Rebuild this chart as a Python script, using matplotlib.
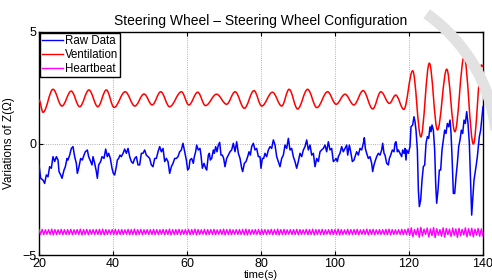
import numpy as np
import matplotlib
matplotlib.use("Agg")
from matplotlib import pyplot as plt
from matplotlib.path import Path
from matplotlib.patches import PathPatch, Arc
from matplotlib.lines import Line2D

plt.rcParams['font.family'] = ['Liberation Sans', 'DejaVu Sans']

# raw impedance trace (time in s, value)
raw_t = [20.0, 20.45, 21.08, 21.53, 21.98, 22.43, 22.88, 23.33, 23.78, 24.24, 24.69, 25.14, 25.41, 25.86,
         26.22, 26.76, 27.12, 27.57, 27.84, 28.29, 28.74, 29.19, 29.64, 30.09, 30.36, 30.72, 31.26, 31.71,
         32.16, 32.52, 33.06, 33.42, 33.97, 34.33, 34.60, 35.05, 35.50, 35.77, 36.13, 36.67, 37.03, 37.57,
         38.02, 38.47, 38.83, 39.28, 39.73, 40.09, 40.45, 40.90, 41.17, 41.53, 41.89, 42.25, 42.71, 43.16,
         43.61, 44.06, 44.51, 44.96, 45.41, 45.86, 46.31, 46.76, 47.21, 47.66, 48.11, 48.56, 49.01, 49.46,
         49.91, 50.36, 50.81, 51.27, 51.72, 52.17, 52.62, 53.07, 53.52, 53.97, 54.42, 54.87, 55.32, 55.77,
         56.22, 56.67, 57.12, 57.57, 58.02, 58.47, 58.92, 59.37, 59.82,
         60.18, 60.54, 60.81, 61.26, 61.71, 61.98, 62.34, 62.61, 63.06, 63.51, 63.78, 64.15, 64.60, 65.05,
         65.32, 65.77, 66.04, 66.31, 66.67, 67.12, 67.39, 67.75, 68.11, 68.47, 68.83, 69.19, 69.55, 69.91,
         70.27, 70.72, 71.17, 71.62, 72.07, 72.52, 72.98, 73.43, 73.88, 74.33, 74.78, 75.05, 75.50, 75.95,
         76.40, 76.76, 77.12, 77.48, 77.93, 78.38, 78.83, 79.28, 79.73, 80.00, 80.36, 80.72, 81.08, 81.53,
         81.99, 82.44, 82.89, 83.34, 83.79, 84.24, 84.69, 85.14, 85.59, 86.04, 86.49, 86.94, 87.39, 87.84,
         88.29, 88.74, 89.19, 89.64, 90.09, 90.54, 90.99, 91.45, 91.90, 92.35, 92.80, 93.25, 93.70, 94.15,
         94.60, 95.05, 95.50, 95.95, 96.40, 96.85, 97.30, 97.75, 98.20, 98.65, 99.10, 99.55, 100.0,
         100.27, 100.63, 100.90, 101.35, 101.80, 102.25, 102.70, 103.16, 103.43, 103.88, 104.24, 104.69,
         105.14, 105.41, 105.86, 106.31, 106.76, 107.21, 107.66, 107.93, 108.20, 108.56, 109.01, 109.46,
         109.91, 110.18, 110.54, 110.81, 111.26, 111.71, 112.16, 112.62, 112.89, 113.25, 113.52, 113.97,
         114.42, 114.69, 115.05, 115.50, 115.95, 116.22, 116.49, 116.85, 117.12,
         118.02, 118.29, 118.65, 118.92, 119.19, 119.37, 119.82, 120.27, 120.54, 120.99, 121.35, 121.62,
         121.89, 122.26, 122.53, 122.80, 123.16, 123.52, 123.88, 124.24, 124.60, 124.96, 125.32, 125.68,
         125.95, 126.22, 126.58, 126.94, 127.21, 127.48, 127.84, 128.20, 128.56, 128.92, 129.28, 129.64,
         130.00, 130.36, 130.72, 131.09, 131.36, 131.63, 131.99, 132.35, 132.71, 133.07, 133.43, 133.79,
         134.15, 134.51, 134.87, 135.23, 135.59, 135.95, 136.31, 136.67, 136.94, 137.21, 137.57, 138.11,
         138.47, 139.01, 139.37, 139.73, 140.0]
raw_v = [-0.96, -1.56, -1.64, -1.79, -1.41, -1.49, -1.04, -1.11, -0.59, -0.81, -0.59, -0.74, -1.26, -1.41,
         -1.56, -1.19, -1.04, -0.67, -0.74, -0.52, -0.22, -0.14, -0.59, -0.89, -1.34, -1.11, -0.67, -0.74,
         -0.52, -0.37, -0.29, -0.59, -0.81, -0.96, -0.59, -0.89, -1.26, -1.56, -0.96, -0.81, -0.59, -0.67,
         -0.25, -0.59, -0.44, -0.67, -1.11, -1.34, -1.41, -1.04, -0.74, -0.67, -0.52, -0.59, -0.44, -0.25,
         -0.44, -0.22, -0.59, -0.81, -0.89, -0.67, -0.59, -0.96, -0.96, -0.44, -0.44, -0.29, -0.52, -0.59,
         -0.67, -0.96, -1.04, -0.67, -0.67, -0.37, -0.14, -0.37, -0.22, -0.81, -0.67, -0.81, -1.34, -1.04,
         -0.89, -0.67, -0.67, -0.59, -0.37, -0.29, 0.01, -0.37, -0.74,
         -1.19, -1.11, -0.74, -0.67, -0.89, -0.59, -0.37, -0.07, -0.29, -0.22, -0.52, -1.11, -0.89, -1.11,
         -1.19, -0.52, -0.44, -0.74, -0.67, -0.29, -0.44, -0.14, -0.37, -0.07, 0.05, -0.52, -0.52, -0.67,
         -1.04, -0.67, -0.52, -0.37, -0.29, 0.01, -0.37, 0.08, -0.44, -0.67, -1.11, -1.26, -0.89, -0.81,
         -0.59, -0.37, -0.52, -0.14, 0.01, -0.29, -0.22, -0.59, -0.59, -1.11, -0.67, -0.67, -0.44, -0.59,
         -0.29, -0.14, -0.22, 0.16, -0.07, -0.59, -0.81, -1.04, -0.67, -0.52, -0.07, -0.22, 0.23, -0.29,
         -0.22, -0.59, -0.81, -1.11, -0.81, -0.44, -0.59, -0.29, -0.14, 0.16, -0.29, -0.07, -0.52, -0.44,
         -1.04, -0.67, -0.81, -0.37, -0.29, -0.22, -0.07, -0.37, 0.08, -0.29, -0.22, -0.81, -0.74,
         -0.67, -0.81, -0.59, -0.44, -0.14, -0.37, -0.22, -0.07, -0.52, -0.07, -0.37, -0.81,
         -0.74, -0.59, -0.37, -0.52, -0.22, -0.29, 0.01, 0.26, -0.22, -0.44, -0.67, -0.59,
         -0.89, -1.26, -0.96, -0.81, -0.59, -0.44, -0.52, -0.29, 0.01, -0.44, -0.52, -0.89,
         -0.96, -0.67, -0.52, -0.29, -0.37, 0.01, 0.08, -0.37, -0.29,
         -0.59, -0.29, -0.44, -0.22, -0.74, -0.29, -0.44, -0.14, 0.75, 0.83, 1.20, 0.98,
         0.60, -0.29, -2.09, -2.83, -2.53, -1.64, -1.04, -0.96, 0.01, 0.31, 0.23, 0.75,
         0.53, 0.83, 0.60, -0.29, -1.79, -2.68, -2.09, -1.19, -1.19, -0.29, 0.16, 0.60,
         0.45, 0.90, 0.75, 1.05, 0.45, -0.59, -2.24, -2.24, -1.49, -0.89, -0.14, 0.16,
         0.60, 0.45, 1.05, 0.90, 1.43, 0.90, 0.01, -1.79, -3.21, -2.53, -1.64, -1.04,
         -0.59, 0.31, 0.60, 1.20, 1.65]

# ventilation: successive peaks and troughs (time in s, value)
vent_t = [20.0, 21.1, 23.8, 26.2, 28.7, 31.0, 33.5, 35.9, 38.2, 40.3, 43.3, 45.9, 48.4, 50.6, 52.9, 55.3,
          58.5, 60.5, 62.9, 65.0, 68.0, 70.7, 73.0, 75.5, 78.1, 80.2, 83.1, 85.6, 87.6, 89.9, 92.6, 95.1,
          98.0, 100.3, 102.7, 105.1, 107.6, 110.2, 112.4, 114.7, 116.4, 118.6, 121.0, 123.2, 125.5, 127.7,
          130.2, 132.4, 134.9, 137.4, 139.6, 140.0]
vent_v = [1.95, 1.40, 2.43, 1.68, 2.35, 1.65, 2.40, 1.65, 2.40, 1.62, 2.32, 1.68, 2.22, 1.73, 2.32, 1.65,
          2.32, 1.73, 2.30, 1.70, 2.21, 1.76, 2.32, 1.58, 2.37, 1.68, 2.30, 1.68, 2.43, 1.55, 2.43, 1.61,
          2.32, 1.76, 2.21, 1.73, 2.37, 1.55, 2.32, 1.80, 2.17, 1.53, 3.26, 0.30, 3.60, 0.61,
          3.33, 0.53, 3.89, -0.02, 3.52, 3.45]

# heartbeat: one peak and one trough per beat, beats about 0.86 s apart
hb_start = 20.0
hb_half_period = 0.43
hb_peaks = [-3.86, -3.85, -3.87, -3.86, -3.84, -3.86, -3.87, -3.85, -3.86, -3.86, -3.85, -3.87, -3.86, -3.84,
            -3.86, -3.85, -3.87, -3.86, -3.86, -3.85, -3.84, -3.86, -3.87, -3.86, -3.85, -3.86, -3.86, -3.87,
            -3.85, -3.86, -3.84, -3.86, -3.85, -3.87, -3.86, -3.86, -3.85, -3.86, -3.87, -3.85, -3.86, -3.84,
            -3.86, -3.86, -3.85, -3.87, -3.86, -3.85, -3.86, -3.84, -3.86, -3.87, -3.85, -3.86, -3.86, -3.85,
            -3.87, -3.86, -3.84, -3.86, -3.85, -3.87, -3.86, -3.86, -3.85, -3.84, -3.86, -3.87, -3.86, -3.85,
            -3.86, -3.86, -3.87, -3.85, -3.86, -3.84, -3.86, -3.85, -3.87, -3.86, -3.86, -3.85, -3.86, -3.87,
            -3.85, -3.86, -3.84, -3.86, -3.86, -3.85, -3.87, -3.86, -3.85, -3.86, -3.84, -3.86, -3.87, -3.85,
            -3.86, -3.86, -3.85, -3.87, -3.86, -3.84, -3.86, -3.85, -3.87, -3.86, -3.86, -3.85, -3.84, -3.86,
            -3.87, -3.86, -3.85, -3.86,
            -3.82, -3.78, -3.85, -3.80, -3.76, -3.84, -3.79, -3.83, -3.77, -3.82, -3.86, -3.78, -3.81, -3.84,
            -3.79, -3.83, -3.80, -3.85, -3.78, -3.82, -3.80, -3.84, -3.81, -3.83]
hb_troughs = [-4.08, -4.09, -4.07, -4.08, -4.10, -4.08, -4.07, -4.09, -4.08, -4.08, -4.09, -4.07, -4.08,
              -4.10, -4.08, -4.09, -4.07, -4.08, -4.08, -4.09, -4.10, -4.08, -4.07, -4.08, -4.09, -4.08,
              -4.08, -4.07, -4.09, -4.08, -4.10, -4.08, -4.09, -4.07, -4.08, -4.08, -4.09, -4.08, -4.07,
              -4.09, -4.08, -4.10, -4.08, -4.08, -4.09, -4.07, -4.08, -4.09, -4.08, -4.10, -4.08, -4.07,
              -4.09, -4.08, -4.08, -4.09, -4.07, -4.08, -4.10, -4.08, -4.09, -4.07, -4.08, -4.08, -4.09,
              -4.10, -4.08, -4.07, -4.08, -4.09, -4.08, -4.08, -4.07, -4.09, -4.08, -4.10, -4.08, -4.09,
              -4.07, -4.08, -4.08, -4.09, -4.08, -4.07, -4.09, -4.08, -4.10, -4.08, -4.08, -4.09, -4.07,
              -4.08, -4.09, -4.08, -4.10, -4.08, -4.07, -4.09, -4.08, -4.08, -4.09, -4.07, -4.08, -4.10,
              -4.08, -4.09, -4.07, -4.08, -4.08, -4.09, -4.10, -4.08, -4.07, -4.08, -4.09, -4.08,
              -4.12, -4.18, -4.10, -4.21, -4.15, -4.08, -4.19, -4.13, -4.22, -4.11, -4.16, -4.20, -4.09,
              -4.17, -4.12, -4.21, -4.14, -4.10, -4.18, -4.13, -4.19, -4.11, -4.16, -4.14]

x_ticks = [20, 40, 60, 80, 100, 120, 140]
y_ticks = [-5, 0, 5]

fig = plt.figure(figsize=(4.92, 2.8), dpi=100)

# faint grey watermark swoosh in the top right corner, behind the plot
fig.patches.append(Arc((330 / 492, 130 / 280), 2 * 167 / 492, 2 * 167 / 280, theta1=12, theta2=68,
                       transform=fig.transFigure, color='#e2e2e2', lw=8, zorder=0))

ax = fig.add_axes([39 / 492, 25 / 280, 444 / 492, 223 / 280])
ax.set_facecolor('none')

# heartbeat as peak/trough zigzag on a regular time grid
hb_v = np.ravel(np.column_stack([hb_peaks, hb_troughs]))
hb_t = hb_start + hb_half_period * np.arange(len(hb_v))
ax.plot(hb_t, hb_v, color='#ff00ff', lw=1.0, zorder=3)

# ventilation: smooth curve through peaks/troughs (flat tangent at every extremum)
verts = [(vent_t[0], vent_v[0])]
codes = [Path.MOVETO]
for i in range(1, len(vent_t)):
    dt = vent_t[i] - vent_t[i - 1]
    verts += [(vent_t[i - 1] + 0.36 * dt, vent_v[i - 1]),
              (vent_t[i] - 0.36 * dt, vent_v[i]),
              (vent_t[i], vent_v[i])]
    codes += [Path.CURVE4] * 3
ax.add_patch(PathPatch(Path(verts, codes), fill=False, edgecolor='#ff0000', lw=1.1, zorder=3))

ax.plot(raw_t, raw_v, color='#0000ff', lw=1.1, zorder=4)

ax.set_xlim(20, 140)
ax.set_ylim(-5, 5)
ax.set_xticks(x_ticks)
ax.set_yticks(y_ticks)
ax.set_yticklabels(['\u22125', '0', '5'])
ax.grid(True, linestyle=':', color='#999999', lw=0.6)
ax.tick_params(direction='in', top=True, right=True, length=3, labelsize=9, pad=2)
for s in ax.spines.values():
    s.set_linewidth(1.0)

ax.set_title('Steering Wheel \u2013 Steering Wheel Configuration', fontsize=10, pad=5)
ax.set_xlabel('time(s)', fontsize=8, labelpad=0)
ax.set_ylabel('Variations of Z(\u03a9)', fontsize=8.5, labelpad=5)

handles = [Line2D([], [], color='#0000ff', lw=1.0),
           Line2D([], [], color='#ff0000', lw=1.0),
           Line2D([], [], color='#ff00ff', lw=1.0)]
leg = ax.legend(handles, ['Raw Data', 'Ventilation', 'Heartbeat'], loc='upper left', fontsize=8.3,
                fancybox=False, edgecolor='black', framealpha=1, borderaxespad=0.1, borderpad=0.2,
                labelspacing=0.15, handlelength=1.8, handletextpad=0.15)
leg.get_frame().set_linewidth(1.0)

fig.savefig('out.png', dpi=100)
